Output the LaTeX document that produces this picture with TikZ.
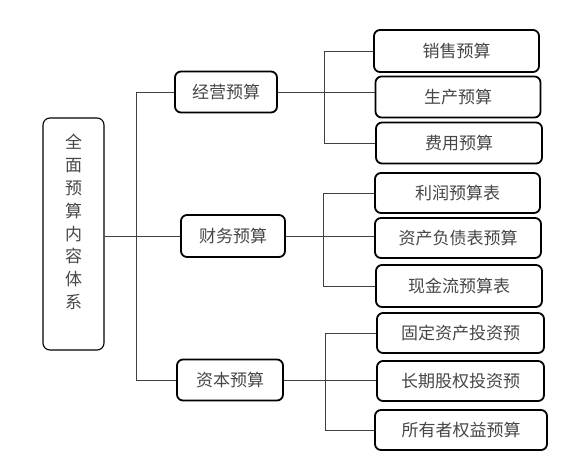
\documentclass[tikz,border=0pt]{standalone}
\usepackage{fontspec}
\setmainfont{Noto Sans CJK SC}
\begin{document}
\begin{tikzpicture}[x=1pt,y=-1pt,
  box/.style={draw=black, line width=1.8pt, rounded corners=6pt, inner sep=0pt,
    text=black!72, font=\fontsize{17}{19}\selectfont, anchor=center},
  rootbox/.style={draw=black, line width=1.1pt, rounded corners=7pt, inner sep=0pt,
    minimum width=61pt, minimum height=232pt},
  conn/.style={draw=black!75, line width=0.7pt}]
\useasboundingbox (0,0) rectangle (572,472);
\fill[white] (0,0) rectangle (572,472);
% root
\node[rootbox] (root) at (73.5,234) {};
\node[text=black!72, font=\fontsize{17}{22.8}\selectfont, align=center, anchor=center] (roottxt) at (73.5,222)
  {全\\面\\预\\算\\内\\容\\体\\系};
% level 2
\node[box, minimum width=102pt, minimum height=41pt] (jy) at (226,92) {经营预算};
\node[box, minimum width=104pt, minimum height=42pt] (cw) at (233,236) {财务预算};
\node[box, minimum width=106pt, minimum height=41pt] (zb) at (230,380) {资本预算};
% level 3
\node[box, minimum width=165pt, minimum height=42pt] (xs) at (456.5,51) {销售预算};
\node[box, minimum width=165pt, minimum height=41pt] (sc) at (458,97) {生产预算};
\node[box, minimum width=166pt, minimum height=41pt] (fy) at (459,143) {费用预算};
\node[box, minimum width=165pt, minimum height=40pt] (lr) at (457.5,193) {利润预算表};
\node[box, minimum width=166pt, minimum height=40pt] (zc) at (458,238) {资产负债表预算};
\node[box, minimum width=166pt, minimum height=42pt] (xj) at (459,286) {现金流预算表};
\node[box, minimum width=167pt, minimum height=40pt] (gd) at (460.5,333) {固定资产投资预};
\node[box, minimum width=167pt, minimum height=40pt] (cq) at (460.5,381) {长期股权投资预};
\node[box, minimum width=172pt, minimum height=40pt] (sy) at (461,430) {所有者权益预算};
% trunk coordinates
\coordinate (T) at (136,0);
\coordinate (S1) at (324,0);
\coordinate (S2) at (323,0);
\coordinate (S3) at (325,0);
% main trunk
\draw[conn] (jy.west) -- (jy.west -| T) -- (zb.west -| T) -- (zb.west);
\draw[conn] (root.east |- cw.west) -- (cw.west);
% group 1
\draw[conn] (xs.west) -- (xs.west -| S1) -- (fy.west -| S1) -- (fy.west);
\draw[conn] (jy.east) -- (sc.west |- jy.east);
% group 2
\draw[conn] (lr.west) -- (lr.west -| S2) -- (xj.west -| S2) -- (xj.west);
\draw[conn] (cw.east) -- (zc.west |- cw.east);
% group 3
\draw[conn] (gd.west) -- (gd.west -| S3) -- (sy.west -| S3) -- (sy.west);
\draw[conn] (zb.east) -- (cq.west |- zb.east);
\end{tikzpicture}
\end{document}
